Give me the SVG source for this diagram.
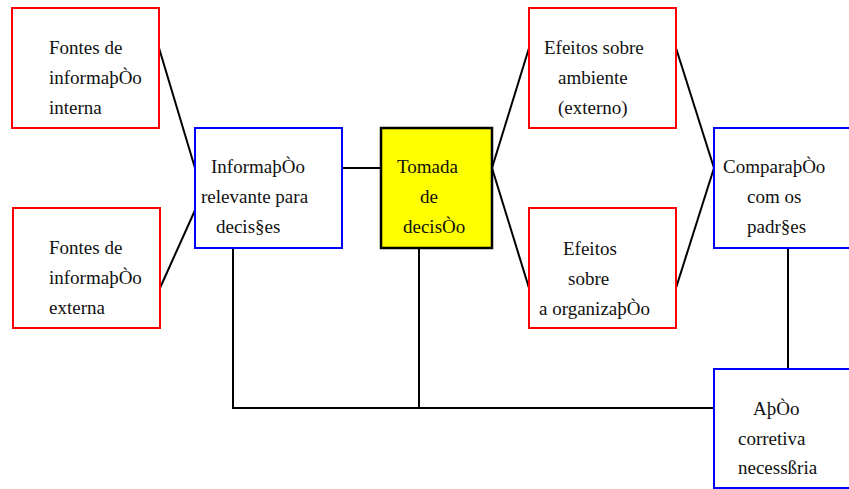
<svg xmlns="http://www.w3.org/2000/svg" width="849" height="489" viewBox="0 0 849 489">
<style>
.box{fill:#fff;stroke-width:2}
.red{stroke:#ff0000}
.blue{stroke:#0000ff}
.yel{fill:#ffff00;stroke:#000;stroke-width:2.5}
text{font-family:"Liberation Serif","Times New Roman",serif;font-size:19px;fill:#111}
.conn line,.conn polyline{stroke:#000;stroke-width:2;fill:none}
</style>
<rect width="849" height="489" fill="#fff"/>
<g class="conn" id="connectors">
<line x1="159" y1="48" x2="195" y2="168"/>
<line x1="160" y1="288" x2="196" y2="208"/>
<line x1="342" y1="168" x2="381" y2="168"/>
<line x1="492" y1="168" x2="529" y2="48"/>
<line x1="492" y1="168" x2="529" y2="288"/>
<line x1="676" y1="48" x2="714" y2="168"/>
<line x1="676" y1="288" x2="714" y2="168"/>
<line x1="788" y1="248" x2="788" y2="369"/>
<polyline points="233,248 233,408 714,408"/>
<line x1="419" y1="248" x2="419" y2="408"/>
</g>
<g id="fontes-interna">
<rect class="box red" x="12" y="8" width="147" height="120"/>
<text x="49" y="54">Fontes de</text>
<text x="49" y="84">informaþÒo</text>
<text x="49" y="114">interna</text>
</g>
<g id="fontes-externa">
<rect class="box red" x="13" y="208" width="147" height="120"/>
<text x="49" y="254">Fontes de</text>
<text x="49" y="284">informaþÒo</text>
<text x="49" y="314">externa</text>
</g>
<g id="informacao">
<rect class="box blue" x="195" y="128" width="147" height="120"/>
<text x="211" y="173">InformaþÒo</text>
<text x="201" y="203">relevante para</text>
<text x="216" y="233">decis§es</text>
</g>
<g id="tomada">
<rect class="yel" x="381" y="128" width="111" height="120"/>
<text x="397" y="173">Tomada</text>
<text x="420" y="203">de</text>
<text x="403" y="233">decisÒo</text>
</g>
<g id="efeitos-ambiente">
<rect class="box red" x="529" y="8" width="147" height="120"/>
<text x="544" y="54">Efeitos sobre</text>
<text x="558" y="84">ambiente</text>
<text x="558" y="114">(externo)</text>
</g>
<g id="efeitos-organizacao">
<rect class="box red" x="529" y="208" width="147" height="120"/>
<text x="563" y="255">Efeitos</text>
<text x="568" y="285">sobre</text>
<text x="539" y="315">a organizaþÒo</text>
</g>
<g id="comparacao">
<rect class="box blue" x="714" y="128" width="147" height="120"/>
<text x="723" y="173">ComparaþÒo</text>
<text x="747" y="203">com os</text>
<text x="747" y="233">padr§es</text>
</g>
<g id="acao">
<rect class="box blue" x="714" y="369" width="147" height="119"/>
<text x="753" y="415">AþÒo</text>
<text x="738" y="445">corretiva</text>
<text x="738" y="474">necessßria</text>
</g>
</svg>
